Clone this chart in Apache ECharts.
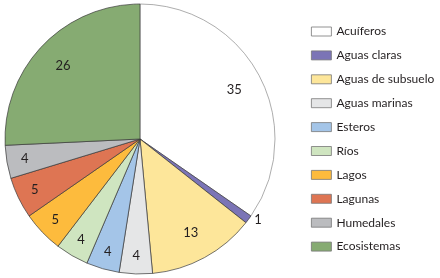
<!DOCTYPE html>
<html>
<head>
<meta charset="utf-8">
<script src="https://cdn.jsdelivr.net/npm/echarts@6/dist/echarts.min.js"></script>
<style>html,body{margin:0;padding:0;background:#fff}#c{width:440px;height:278px}</style>
</head>
<body>
<div id="c"></div>
<script>
var categories = ['Acuíferos','Aguas claras','Aguas de subsuelo','Aguas marinas','Esteros','Ríos','Lagos','Lagunas','Humedales','Ecosistemas'];
var values = [35, 1, 13, 4, 4, 4, 5, 5, 4, 26];
var palette = ['#ffffff','#7b74b6','#fde69a','#e5e6e7','#a4c5e8','#cfe5c0','#fdbb3d','#de7553','#bbbcbf','#86ab72'];

var chart = echarts.init(document.getElementById('c'), null, {renderer:'canvas'});
var font = 'Lato';
var mainData = categories.map(function(n,i){
  return {name:n, value:values[i], itemStyle:{color:palette[i], borderColor: i===0 ? '#8a8a8a' : '#3a3a3a'}};
});
function labelData(test){
  return categories.map(function(n,i){
    var d = {name:n, value:values[i], label:{show:test(values[i])}};
    if (values[i] < 2) {
      d.label.position = 'outside';
      d.label.align = 'left';
      d.labelLine = {show:false, length:1, length2:0};
    }
    return d;
  });
}
function labelSeries(r0, test){
  return {
    type:'pie', center:[140,139], radius:[r0,135], startAngle:90, clockwise:true,
    silent:true, avoidLabelOverlap:false, legendHoverLink:false,
    itemStyle:{color:'rgba(0,0,0,0)', borderWidth:0},
    label:{position:'inside', formatter:'{c}', fontFamily:font, fontSize:13, color:'#231f20'},
    labelLine:{show:false},
    data: labelData(test)
  };
}
chart.setOption({
  animation:false,
  color: palette,
  legend:{
    orient:'vertical', left:306, top:19.5,
    itemWidth:20, itemHeight:9, itemGap:9.9,
    icon:'rect',
    data: categories,
    itemStyle:{borderColor:'#777', borderWidth:0.8},
    textStyle:{fontFamily:font, fontSize:12, color:'#231f20', lineHeight:14}
  },
  series:[
    {
      type:'pie', name:'main', center:[140,139], radius:[0,135], startAngle:90, clockwise:true,
      silent:true, label:{show:false}, labelLine:{show:false},
      itemStyle:{borderWidth:0.7},
      data: mainData
    },
    labelSeries(72, function(v){ return v >= 10 || v < 2; }),
    labelSeries(93, function(v){ return v < 10 && v >= 2; })
  ]
});
</script>
</body>
</html>
